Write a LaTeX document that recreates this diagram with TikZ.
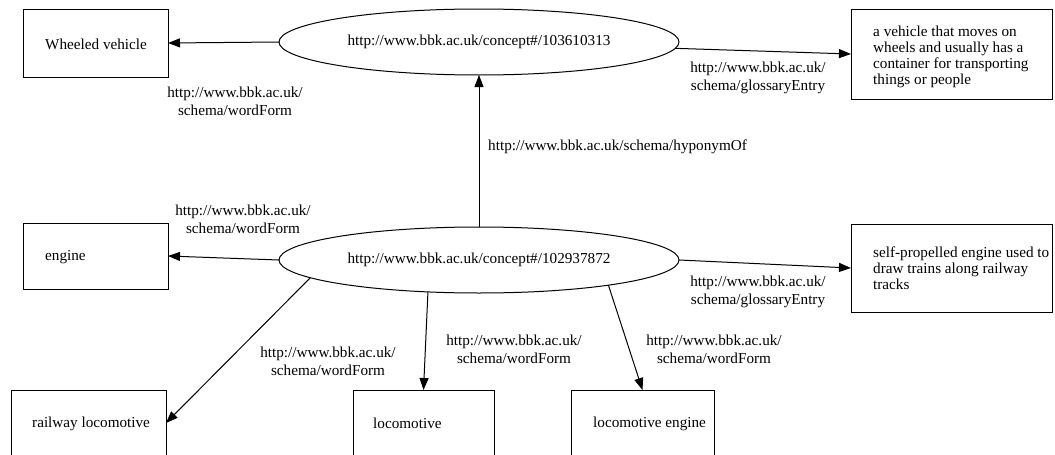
\documentclass[tikz,border=0pt]{standalone}
\usepackage{fontspec}
\setmainfont{Liberation Serif}
\usetikzlibrary{arrows.meta,shapes.geometric}
\begin{document}
\begin{tikzpicture}[x=1pt,y=-1pt,
  every node/.style={font=\fontsize{15.2}{18}\selectfont},
  concept/.style={draw,line width=1pt,ellipse,minimum width=400pt,minimum height=66pt,inner sep=0pt,outer sep=0pt},
  termbox/.style={draw,line width=1pt,rectangle,inner sep=0pt,outer sep=0pt,minimum height=66pt},
  boxtext/.style={anchor=west,align=left,inner sep=0pt},
  glosstext/.style={boxtext,font=\fontsize{15.2}{16}\selectfont},
  arr/.style={line width=1pt,-{Triangle[length=12pt,width=9pt]}},
  lbl/.style={align=center,inner sep=0pt}]
\useasboundingbox (0,0) rectangle (1055,455);
% concepts
\node[concept] (e1) at (479,42) {http://www.bbk.ac.uk/concept\#/103610313};
\node[concept] (e2) at (479,260) {http://www.bbk.ac.uk/concept\#/102937872};
% term boxes
\node[termbox,minimum width=145pt,minimum height=68pt] (wv) at (95.5,43) {};
\node[boxtext] (wvt) at ([xshift=22pt,yshift=-1pt]wv.west) {Wheeled vehicle};
\node[termbox,minimum width=145pt] (en) at (95.5,256) {};
\node[boxtext] (ent) at ([xshift=22pt,yshift=-1pt]en.west) {engine};
\node[termbox,minimum width=155pt] (rl) at (88.5,423) {};
\node[boxtext] (rlt) at ([xshift=21pt,yshift=-1pt]rl.west) {railway locomotive};
\node[termbox,minimum width=141pt] (lo) at (423.5,423) {};
\node[boxtext] (lot) at ([xshift=20pt,yshift=0pt]lo.west) {locomotive};
\node[termbox,minimum width=143pt] (le) at (642.5,423) {};
\node[boxtext] (let) at ([xshift=22pt,yshift=-1pt]le.west) {locomotive engine};
% glossary boxes
\node[termbox,minimum width=201pt,minimum height=90pt] (g1) at (951.5,54) {};
\node[glosstext] (g1t) at ([xshift=22pt,yshift=-2.5pt]g1.west) {a vehicle that moves on\\wheels and usually has a\\container for transporting\\things or people};
\node[termbox,minimum width=201pt,minimum height=88pt] (g2) at (951.5,268) {};
\node[glosstext] (g2t) at ([xshift=22pt]g2.west) {self-propelled engine used to\\draw trains along railway\\tracks};
% connectors
\draw[arr] (e1.west) -- (wv.east);
\draw[arr] (e1) -- (g1.west);
\draw[arr] (e2.north) -- (e1.south);
\draw[arr] (e2.west) -- (en.east);
\draw[arr] (e2.east) -- (g2.west);
\draw[arr] (e2.186.7) -- (rl.east);
\draw[arr] (e2.212.6) -- (lo.north);
\draw[arr] (e2.-11.8) -- (le.north);
% labels
\node[lbl] (l1) at (235,101) {http://www.bbk.ac.uk/\\schema/wordForm};
\node[lbl] (l2) at (758,78) {http://www.bbk.ac.uk/\\schema/glossaryEntry};
\node[lbl,anchor=west] (l3) at (488,147) {http://www.bbk.ac.uk/schema/hyponymOf};
\node[lbl] (l4) at (243,219) {http://www.bbk.ac.uk/\\schema/wordForm};
\node[lbl] (l5) at (758,292) {http://www.bbk.ac.uk/\\schema/glossaryEntry};
\node[lbl] (l6) at (328,361) {http://www.bbk.ac.uk/\\schema/wordForm};
\node[lbl] (l7) at (514,349) {http://www.bbk.ac.uk/\\schema/wordForm};
\node[lbl] (l8) at (714,349) {http://www.bbk.ac.uk/\\schema/wordForm};
\end{tikzpicture}
\end{document}
